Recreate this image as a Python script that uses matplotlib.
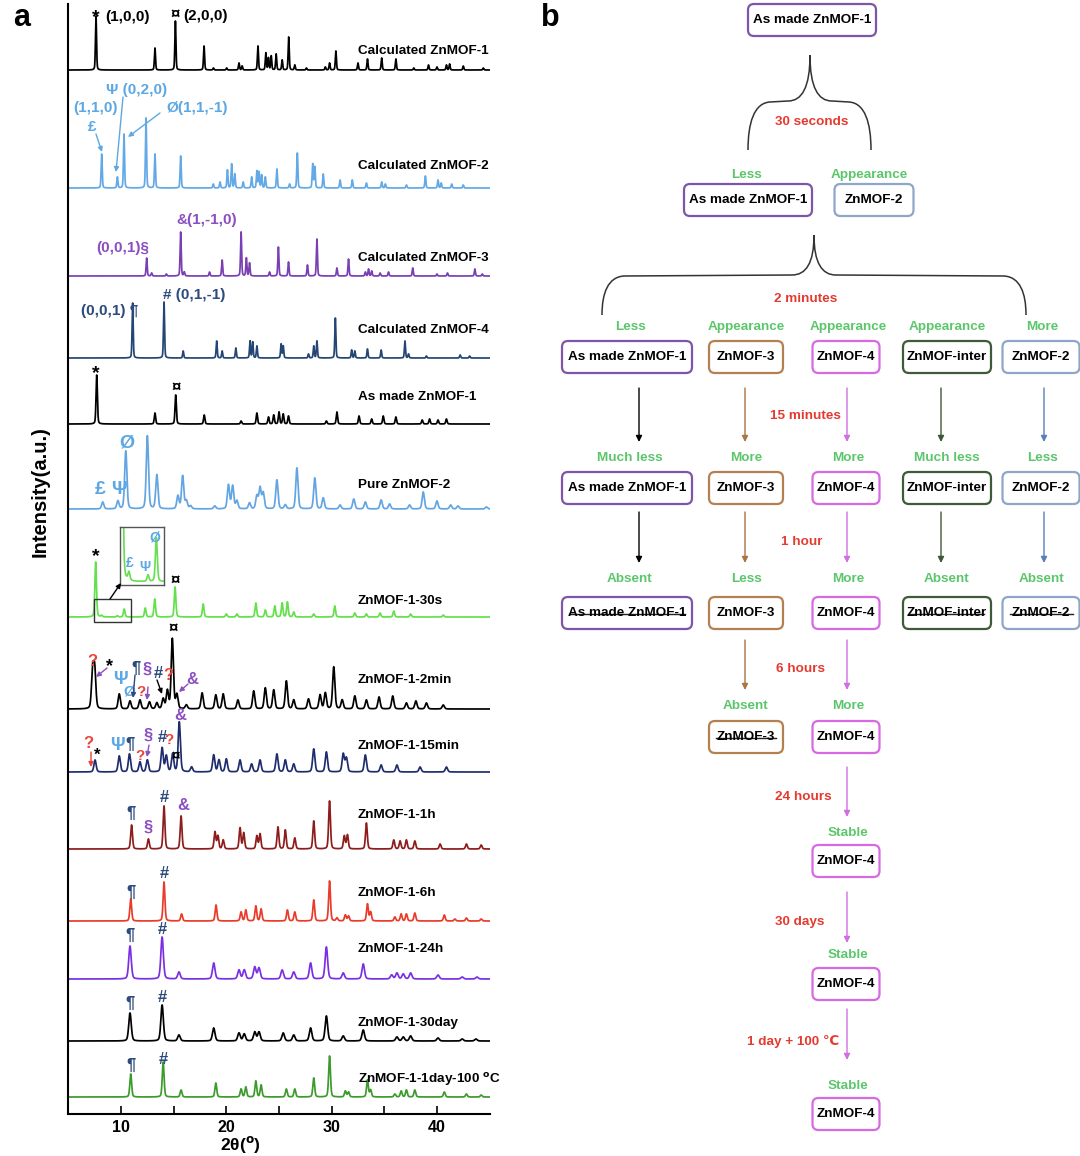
import numpy as np
import matplotlib
matplotlib.use("Agg")
import matplotlib.pyplot as plt
from matplotlib.patches import FancyBboxPatch, Rectangle
from matplotlib.path import Path
from matplotlib.patches import PathPatch

plt.rcParams['font.family'] = ['Liberation Sans', 'DejaVu Sans']
plt.rcParams['font.weight'] = 'bold'

# ---------------- panel a data: peak positions (2theta) and heights (a.u.) ----------------
calc1_pos = [7.62, 13.22, 15.16, 17.88, 18.77, 20.03, 21.2, 21.5, 23.0, 23.75, 24.0, 24.26, 24.73, 25.3,
             25.92, 26.5, 27.6, 29.4, 29.8, 30.4, 32.5, 33.4, 34.75, 36.1, 37.8, 39.2, 40.0, 40.9, 41.2,
             42.5, 44.4]
calc1_int = [54, 22, 49, 24, 2, 2, 7, 4, 24, 17, 12, 14, 16, 10, 33, 5, 2, 3, 7, 19, 7, 11, 12, 11, 2, 5,
             3, 5, 6, 4, 2]
calc2_pos = [8.16, 9.65, 10.28, 12.37, 13.22, 15.66, 18.76, 19.4, 20.1, 20.5, 20.8, 21.6, 22.4, 22.9,
             23.1, 23.35, 23.7, 24.8, 26.0, 26.74, 28.2, 28.4, 29.2, 30.8, 31.96, 33.3, 34.75, 35.1,
             37.1, 38.9, 40.1, 40.4, 41.4, 42.5]
calc2_int = [34, 11, 54, 70, 34, 32, 4, 6, 18, 24, 14, 6, 11, 17, 16, 13, 11, 19, 4, 35, 24, 21, 14, 8, 8,
             5, 6, 4, 3, 12, 8, 5, 4, 3]
calc3_pos = [12.43, 12.9, 14.3, 15.66, 16.0, 18.4, 19.6, 21.4, 21.9, 22.2, 24.1, 24.94, 25.9, 27.7,
             28.6, 30.5, 31.6, 33.2, 33.5, 33.8, 34.6, 35.4, 37.7, 40.0, 41.0, 43.6, 44.3]
calc3_int = [18, 3, 2, 44, 4, 4, 16, 44, 18, 13, 4, 29, 14, 11, 37, 8, 17, 4, 7, 5, 3, 4, 8, 2, 3, 7, 2]
calc4_pos = [11.1, 14.08, 15.9, 19.08, 19.6, 20.9, 22.25, 22.5, 22.9, 25.2, 25.4, 27.8, 28.3, 28.6,
             30.35, 31.9, 32.2, 33.4, 34.7, 36.96, 37.3, 39.0, 42.2, 43.1]
calc4_int = [55, 56, 7, 17, 7, 10, 17, 16, 12, 14, 12, 4, 12, 17, 40, 8, 7, 9, 8, 17, 4, 2, 3, 2]
asmade_pos = [7.69, 13.22, 15.19, 17.9, 21.4, 22.9, 24.0, 24.5, 25.0, 25.4, 25.9, 29.5, 30.5, 32.6,
              33.8, 34.9, 36.1, 38.6, 39.3, 40.1, 40.9]
asmade_int = [49, 11, 29, 9, 3, 11, 7, 9, 12, 10, 8, 3, 12, 8, 5, 8, 7, 4, 5, 4, 5]
pure2_pos = [8.26, 9.7, 10.45, 12.5, 13.4, 15.4, 15.85, 16.2, 16.6, 18.9, 20.2, 20.6, 21.0, 22.2, 22.9,
             23.2, 23.5, 24.8, 25.6, 26.7, 28.4, 29.2, 30.8, 32.1, 33.2, 34.7, 35.5, 37.4, 38.7, 40.0,
             41.3, 42.0, 44.7]
pure2_int = [7, 8, 58, 73, 34, 13, 33, 8, 3, 3, 24, 23, 8, 6, 13, 21, 16, 29, 4, 41, 31, 11, 4, 10, 7,
             9, 5, 4, 17, 8, 4, 3, 2]
s30_pos = [7.59, 8.15, 9.65, 10.3, 12.3, 13.2, 15.13, 17.8, 20.0, 21.0, 22.8, 23.7, 24.6, 25.3, 25.8,
           26.4, 28.3, 30.3, 32.2, 33.3, 34.6, 35.9, 37.5, 40.6]
s30_int = [55, 1.5, 1.2, 8, 9, 18, 30, 13, 3, 3, 14, 7, 11, 14, 15, 5, 3, 11, 4, 3, 4, 6, 3, 2]
m2_pos = [7.3, 7.5, 9.83, 10.85, 11.8, 12.7, 13.4, 14.0, 14.4, 14.87, 15.3, 16.2, 17.7, 19.0, 19.7,
          21.1, 22.6, 23.7, 24.5, 25.7, 26.4, 27.8, 28.9, 29.4, 30.2, 31.0, 32.2, 33.3, 34.5, 35.8,
          37.1, 38.0, 39.0, 40.6]
m2_int = [38, 38, 15, 8, 9, 7, 6, 10, 18, 70, 14, 4, 16, 14, 15, 9, 18, 21, 19, 28, 9, 10, 14, 16, 42,
          9, 13, 9, 12, 13, 6, 8, 6, 4]
m15_pos = [7.53, 9.83, 10.8, 11.8, 12.5, 13.9, 14.3, 14.9, 15.53, 16.7, 18.8, 19.3, 20.0, 21.3, 22.4,
           23.2, 24.8, 25.6, 26.4, 28.3, 29.5, 31.1, 31.4, 33.2, 34.7, 36.2, 38.4, 40.9]
m15_int = [12, 16, 18, 10, 12, 24, 16, 18, 50, 5, 17, 12, 13, 12, 8, 12, 18, 12, 8, 23, 20, 18, 14, 17,
           7, 7, 5, 5]
h1_pos = [11.0, 12.6, 14.08, 15.7, 18.92, 19.2, 19.7, 21.3, 21.65, 22.9, 23.2, 24.9, 25.6, 26.5, 28.3,
          29.8, 31.2, 31.5, 33.3, 35.9, 36.5, 37.1, 37.9, 40.3, 42.8, 44.2]
h1_int = [24, 10, 43, 33, 17, 13, 9, 21, 16, 13, 15, 22, 19, 11, 28, 48, 13, 14, 26, 9, 8, 9, 8, 5, 5, 4]
h6_pos = [10.92, 14.08, 15.75, 19.02, 21.4, 21.85, 22.8, 23.3, 25.8, 26.5, 28.3, 29.8, 30.5, 31.3, 31.6,
          33.4, 33.7, 36.0, 36.6, 37.1, 37.9, 40.7, 41.7, 42.8, 44.2]
h6_int = [22, 39, 7, 16, 9, 11, 15, 12, 11, 9, 21, 40, 3, 6, 5, 17, 9, 4, 7, 7, 8, 6, 2, 3, 2]
h24_pos = [10.85, 13.9, 15.5, 18.8, 21.2, 21.7, 22.7, 23.1, 25.3, 26.4, 28.0, 29.5, 31.1, 33.0, 35.7,
           36.2, 36.8, 37.5, 40.1, 42.4, 43.8]
h24_int = [33, 42, 7, 16, 9, 9, 12, 11, 9, 7, 16, 32, 6, 15, 4, 6, 5, 6, 4, 2, 2]
d30_pos = [10.85, 13.9, 15.5, 18.8, 21.2, 21.7, 22.7, 23.1, 25.4, 26.4, 28.0, 29.5, 31.1, 33.0, 36.2,
           36.8, 37.5, 40.1, 42.4, 43.7]
d30_int = [28, 36, 6, 13, 8, 7, 9, 9, 8, 6, 13, 25, 5, 11, 4, 4, 5, 3, 2, 2]
c100_pos = [10.92, 14.0, 15.7, 19.0, 21.4, 21.85, 22.8, 23.3, 25.7, 26.5, 28.3, 29.8, 31.3, 31.6, 33.4,
            33.7, 36.0, 36.6, 37.1, 37.9, 40.7, 42.8, 44.2]
c100_int = [23, 35, 7, 14, 8, 10, 16, 12, 8, 8, 19, 41, 6, 5, 17, 7, 3, 6, 7, 7, 5, 3, 2]

sample_names = ["Calculated ZnMOF-1", "Calculated ZnMOF-2", "Calculated ZnMOF-3", "Calculated ZnMOF-4",
                "As made ZnMOF-1", "Pure ZnMOF-2", "ZnMOF-1-30s", "ZnMOF-1-2min", "ZnMOF-1-15min",
                "ZnMOF-1-1h", "ZnMOF-1-6h", "ZnMOF-1-24h", "ZnMOF-1-30day",
                r"ZnMOF-1-1day-100 $^{\mathbf{o}}$C"]
peak_pos = [calc1_pos, calc2_pos, calc3_pos, calc4_pos, asmade_pos, pure2_pos, s30_pos, m2_pos, m15_pos,
            h1_pos, h6_pos, h24_pos, d30_pos, c100_pos]
peak_int = [calc1_int, calc2_int, calc3_int, calc4_int, asmade_int, pure2_int, s30_int, m2_int, m15_int,
            h1_int, h6_int, h24_int, d30_int, c100_int]

# layout / style (pixel positions of baselines and labels)
baseline_px = [70, 188, 276, 358, 424, 509, 617, 709, 772, 849, 921, 979, 1041, 1097]
label_px = [51, 166, 258, 330, 397, 485, 601, 680, 746, 815, 893, 949, 1023, 1080]
widths = [0.12, 0.12, 0.12, 0.12, 0.15, 0.25, 0.18, 0.25, 0.25, 0.2, 0.2, 0.28, 0.28, 0.2]
colors = ['black', '#62a9e6', '#7a3fb2', '#244674', 'black', '#62a5e2', '#63e04c', 'black', '#1f2d6e',
          '#8e1c1c', '#ea3b2a', '#7a30e2', 'black', '#3d9a2c']

two_theta = np.linspace(5, 45, 4001)


def pattern(pos, inten, w):
    y = np.zeros_like(two_theta)
    for p, h in zip(pos, inten):
        d = (two_theta - p) / w
        y += h * (0.7 * np.exp(-4 * np.log(2) * d ** 2) + 0.3 / (1 + 4 * d ** 2))
    return y


fig = plt.figure(figsize=(10.8, 11.56), dpi=100)
W, H = 1080.0, 1156.0
ax_l, ax_r, ax_t, ax_b = 68.4, 489.6, 4, 1114
ax = fig.add_axes([ax_l / W, 1 - ax_b / H, (ax_r - ax_l) / W, (ax_b - ax_t) / H])

curves = []
for i in range(len(sample_names)):
    y = pattern(peak_pos[i], peak_int[i], widths[i])
    curves.append(y)
    ax.plot(two_theta, y - baseline_px[i], color=colors[i], lw=1.25)

ax.set_xlim(5, 45)
ax.set_ylim(-ax_b, -ax_t)
for s in ['top', 'right']:
    ax.spines[s].set_visible(False)
for s in ['left', 'bottom']:
    ax.spines[s].set_linewidth(1.5)
ax.set_yticks([])
ax.set_xticks([10, 20, 30, 40])
ax.set_xticks([15, 25, 35], minor=True)
ax.tick_params(axis='x', which='both', direction='in', length=6, width=1.2, labelsize=11.5, pad=4)
for lab in ax.get_xticklabels():
    lab.set_fontweight('bold')

# inset of the 30 s pattern
ins = fig.add_axes([120 / W, 1 - 585 / H, 44 / W, 58 / H])
ins.plot(two_theta, curves[6], color=colors[6], lw=1.2)
ins.set_xlim(7.45, 10.9)
ins.set_ylim(-0.6, 10)
ins.set_xticks([])
ins.set_yticks([])
for s in ins.spines.values():
    s.set_color('#555555')
    s.set_linewidth(1)

# overlay axes in pixel units for all annotations and panel b
ov = fig.add_axes([0, 0, 1, 1])
ov.set_xlim(0, W)
ov.set_ylim(H, 0)
ov.axis('off')
ov.patch.set_visible(False)

for i, name in enumerate(sample_names):
    ov.text(358, label_px[i], name, fontsize=9.7, fontweight='bold', ha='left', va='center')

ov.text(22, 18, 'a', fontsize=22, fontweight='bold', ha='center', va='center')
ov.text(550, 18, 'b', fontsize=22, fontweight='bold', ha='center', va='center')
ov.text(40, 492, 'Intensity(a.u.)', fontsize=14.5, fontweight='bold', rotation=90, ha='center', va='center')
ov.text(240, 1155, r'2θ($^{\mathbf{o}}$)', fontsize=12.5, fontweight='bold', ha='center', va='bottom')

K, LB, PU, NV, RD = 'black', '#5da8e3', '#8b4fc0', '#2d4b7c', '#e8463a'
marks = [
    ("*", 96, 18, K, 14), ("(1,0,0)", 127, 17, K, 11), ("¤", 175, 14, K, 12), ("(2,0,0)", 205, 16, K, 11),
    ("Ψ (0,2,0)", 137, 90, LB, 11), ("(1,1,0)", 96, 108, LB, 11), ("£", 92, 127, LB, 11),
    ("Ø(1,1,-1)", 197, 108, LB, 11),
    ("&(1,-1,0)", 207, 220, PU, 11), ("(0,0,1)§", 123, 248, PU, 11),
    ("# (0,1,-1)", 194, 295, NV, 11), ("(0,0,1) ¶", 110, 311, NV, 11),
    ("*", 96, 374, K, 14), ("¤", 176, 387, K, 12),
    ("Ø", 127, 443, LB, 14), ("£", 100, 490, LB, 14), ("Ψ", 119, 490, LB, 14),
    ("*", 96, 557, K, 14), ("¤", 175, 580, K, 12),
    ("Ø", 155, 538, LB, 10), ("£", 130, 563, LB, 10), ("Ψ", 145, 567, LB, 10),
    ("¤", 173, 628, K, 12), ("?", 92, 661, RD, 12), ("*", 109, 667, K, 13), ("Ψ", 120, 680, LB, 13),
    ("¶", 136, 668, NV, 12), ("Ø", 129, 692, LB, 11), ("?", 141, 692, RD, 11), ("§", 147, 669, PU, 12),
    ("#", 158, 673, NV, 12), ("?", 168, 675, RD, 12), ("&", 192, 679, PU, 12),
    ("?", 88, 744, RD, 12), ("*", 97, 755, K, 12), ("Ψ", 117, 746, LB, 13), ("¶", 130, 744, NV, 12),
    ("?", 140, 756, RD, 11), ("§", 148, 735, PU, 12), ("#", 162, 738, NV, 12), ("?", 169, 740, RD, 11),
    ("¤", 176, 756, K, 11), ("&", 180, 716, PU, 12),
    ("¶", 131, 813, NV, 12), ("§", 148, 827, PU, 12), ("#", 164, 797, NV, 12), ("&", 183, 805, PU, 12),
    ("¶", 131, 892, NV, 12), ("#", 164, 873, NV, 12),
    ("¶", 130, 935, NV, 12), ("#", 162, 929, NV, 12),
    ("¶", 130, 1003, NV, 12), ("#", 162, 998, NV, 12),
    ("¶", 131, 1065, NV, 12), ("#", 163, 1059, NV, 12),
]
for s, x, y, c, fs in marks:
    ov.text(x, y, s, color=c, fontsize=fs, fontweight='bold', ha='center', va='center')

pointers = [
    ((96, 134), (102, 152), LB), ((123, 97), (116, 172), LB), ((160, 113), (128, 137), LB),
    ((107, 668), (96, 677), PU), ((135, 675), (133, 698), NV), ((148, 687), (147, 700), PU),
    ((157, 680), (162, 694), K), ((188, 684), (179, 692), PU),
    ((91, 752), (91, 767), RD), ((149, 745), (147, 757), PU),
    ((110, 599), (121, 583), K),
]
for (x1, y1), (x2, y2), c in pointers:
    ov.annotate("", xy=(x2, y2), xytext=(x1, y1),
                arrowprops=dict(arrowstyle='-|>', color=c, lw=1, mutation_scale=7, shrinkA=0, shrinkB=0))
ov.add_patch(Rectangle((94, 599), 37, 23, fill=False, ec='#333333', lw=1))

# ---------------- panel b ----------------
GREEN, RED = '#5cc66c', '#e53a30'
box_h = 32


def box(cx, cy, w, text, ec, strike=False):
    ov.add_patch(FancyBboxPatch((cx - w / 2, cy - box_h / 2), w, box_h,
                                boxstyle="round,pad=0,rounding_size=6", fc='white', ec=ec, lw=1.6))
    ov.text(cx, cy, text, fontsize=9.7, fontweight='bold', ha='center', va='center')
    if strike:
        ov.plot([cx - w / 2 + 7, cx + w / 2 - 7], [cy + 1, cy + 1], color='#222222', lw=1)


def brace(xt, yt, yj, xl, xr, yb):
    verts, codes = [], []
    for xs, sgn in ((xl, -1), (xr, 1)):
        verts += [(xt, yt), (xt, yt + 0.7 * (yj - yt)), (xt + sgn * 8, yj), (xt + sgn * 22, yj),
                  (xs - sgn * 22, yj + 1), (xs - sgn * 6, yj + 2), (xs, yj + 0.45 * (yb - yj)), (xs, yb)]
        codes += [Path.MOVETO, Path.CURVE4, Path.CURVE4, Path.CURVE4, Path.LINETO,
                  Path.CURVE4, Path.CURVE4, Path.CURVE4]
    ov.add_patch(PathPatch(Path(verts, codes), fc='none', ec='#333333', lw=1.1))


def arrow(x, y1, y2, c):
    ov.annotate("", xy=(x, y2), xytext=(x, y1),
                arrowprops=dict(arrowstyle='-|>', color=c, lw=1, mutation_scale=9, shrinkA=0, shrinkB=0))


col_names = ["As made ZnMOF-1", "ZnMOF-3", "ZnMOF-4", "ZnMOF-inter", "ZnMOF-2"]
col_x = [627, 746, 846, 947, 1041]
col_w = [130, 74, 67, 88, 77]
arrow_x = [639, 745, 847, 941, 1044]
box_colors = ['#7e55a8', '#b5804f', '#d76ae2', '#3e5a38', '#8ea6c8']
arrow_colors = ['black', '#a87545', '#d070e0', '#3c5a35', '#5a7fb8']

# stage rows: (label y, box y, statuses per column, struck columns)
rows = [
    (327, 357, ["Less", "Appearance", "Appearance", "Appearance", "More"], []),
    (458, 488, ["Much less", "More", "More", "Much less", "Less"], []),
    (579, 613, ["Absent", "Less", "More", "Absent", "Absent"], [0, 3, 4]),
    (706, 737, [None, "Absent", "More", None, None], [1]),
    (833, 861, [None, None, "Stable", None, None], []),
    (955, 984, [None, None, "Stable", None, None], []),
    (1086, 1114, [None, None, "Stable", None, None], []),
]
arrow_spans = [(388, 442), (512, 563), (640, 690), (767, 817), (892, 943), (1009, 1060)]
times = [("15 minutes", 805, 416), ("1 hour", 802, 542), ("6 hours", 801, 669), ("24 hours", 803, 797),
         ("30 days", 800, 922), ("1 day + 100 ℃", 793, 1041)]

box(812, 20, 128, "As made ZnMOF-1", box_colors[0])
brace(810, 55, 101, 748, 871, 150)
ov.text(812, 122, "30 seconds", color=RED, fontsize=9.7, fontweight='bold', ha='center', va='center')
ov.text(746, 175, "Less", color=GREEN, fontsize=9.7, fontweight='bold', ha='center', va='center')
ov.text(869, 175, "Appearance", color=GREEN, fontsize=9.7, fontweight='bold', ha='center', va='center')
box(748, 200, 128, "As made ZnMOF-1", box_colors[0])
box(874, 200, 79, "ZnMOF-2", box_colors[4])
brace(814, 235, 275, 602, 1026, 315)
ov.text(806, 299, "2 minutes", color=RED, fontsize=9.7, fontweight='bold', ha='center', va='center')

label_shift = [3, 0, 2, 0, 1]
for r, (ly, by, statuses, struck) in enumerate(rows):
    for c, st in enumerate(statuses):
        if st is None:
            continue
        ov.text(col_x[c] + label_shift[c], ly, st, color=GREEN, fontsize=9.7, fontweight='bold',
                ha='center', va='center')
        box(col_x[c], by, col_w[c], col_names[c], box_colors[c], strike=c in struck)
        if r + 1 < len(rows) and rows[r + 1][2][c] is not None:
            y1, y2 = arrow_spans[r]
            arrow(arrow_x[c], y1, y2, arrow_colors[c])

for txt, x, y in times:
    ov.text(x, y, txt, color=RED, fontsize=9.7, fontweight='bold', ha='center', va='center')

fig.savefig('out.png', dpi=100)
